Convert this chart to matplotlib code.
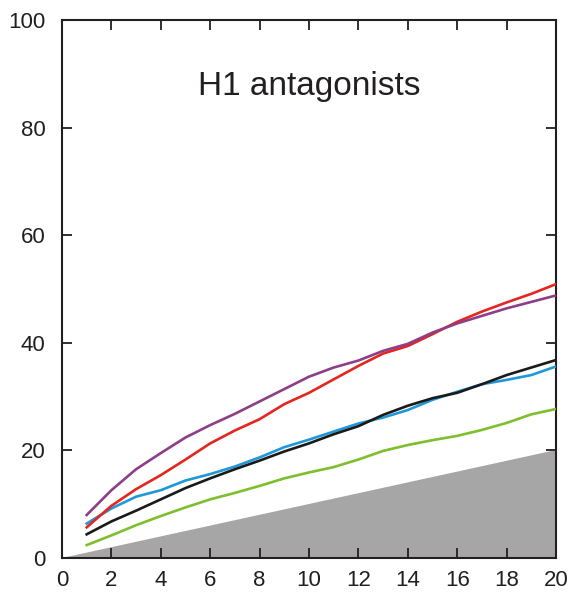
import matplotlib
matplotlib.use("Agg")
import matplotlib.pyplot as plt
import numpy as np

plt.rcParams['font.family'] = ['Liberation Sans', 'DejaVu Sans']

# Number of top-ranked compounds
x = list(range(1, 21))

purple = [8.0, 12.6, 16.5, 19.5, 22.4, 24.7, 26.8, 29.1, 31.4, 33.7,
          35.4, 36.7, 38.5, 39.8, 41.9, 43.6, 45.0, 46.4, 47.6, 48.8]
red = [5.7, 9.7, 12.8, 15.4, 18.3, 21.3, 23.7, 25.8, 28.6, 30.7,
       33.2, 35.7, 38.0, 39.4, 41.6, 43.9, 45.8, 47.5, 49.1, 50.9]
blue = [6.4, 9.2, 11.4, 12.6, 14.4, 15.6, 17.0, 18.7, 20.6, 22.0,
        23.5, 25.0, 26.1, 27.5, 29.4, 30.9, 32.3, 33.1, 34.0, 35.6]
black = [4.4, 6.8, 8.8, 10.9, 13.0, 14.8, 16.5, 18.1, 19.8, 21.3,
         23.0, 24.5, 26.6, 28.3, 29.7, 30.7, 32.3, 34.0, 35.4, 36.8]
green = [2.4, 4.2, 6.1, 7.8, 9.4, 10.9, 12.1, 13.4, 14.8, 15.9,
         16.9, 18.3, 19.9, 21.0, 21.9, 22.7, 23.8, 25.1, 26.7, 27.7]

# Random-selection baseline (shaded)
base_x = [0, 20, 20]
base_y = [0, 0, 20]

xticks = list(range(0, 21, 2))
yticks = list(range(0, 101, 20))
title = "H1 antagonists"

fig = plt.figure(figsize=(5.72, 6.0), dpi=100)
ax = fig.add_axes([0.1084, 0.07, 0.8636, 0.8967])

ax.fill(base_x, base_y, color='#a6a6a6', lw=0, zorder=1)

series = [
    (green, '#7dbf2c'),
    (blue, '#1e98d8'),
    (black, '#1a1a1a'),
    (red, '#e3261f'),
    (purple, '#8d3e87'),
]
for ys, c in series:
    ax.plot(x, ys, color=c, lw=1.9, solid_joinstyle='round', zorder=3)

ax.set_xlim(0, 20)
ax.set_ylim(0, 100)
ax.set_xticks(xticks)
ax.set_yticks(yticks)
ax.tick_params(direction='in', length=7, width=1.3, labelsize=16,
               top=True, right=True, colors='#231f20')
ax.tick_params(axis='x', pad=9)
ax.tick_params(axis='y', pad=12)
for s in ax.spines.values():
    s.set_linewidth(1.5)
    s.set_color('#231f20')

ax.text(0.5, 0.876, title, transform=ax.transAxes, ha='center', va='center',
        fontsize=24, color='#231f20')

fig.savefig('out.png', dpi=100)
